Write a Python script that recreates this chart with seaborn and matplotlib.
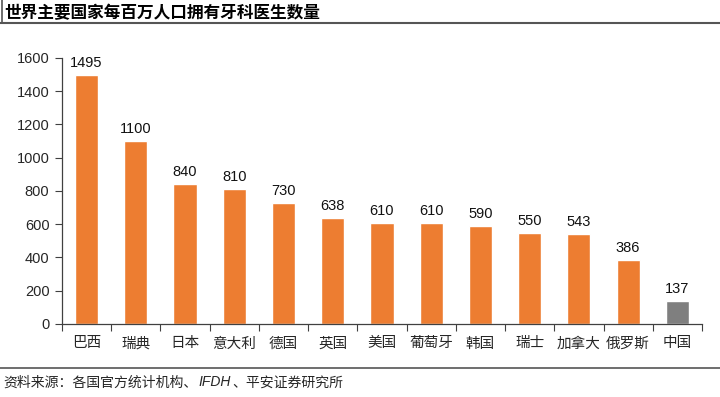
import matplotlib
matplotlib.use("Agg")
import matplotlib.pyplot as plt
from matplotlib.lines import Line2D
import seaborn as sns
import pandas as pd
import numpy as np

countries = ["巴西", "瑞典", "日本", "意大利", "德国", "英国", "美国", "葡萄牙", "韩国", "瑞士", "加拿大", "俄罗斯", "中国"]
values = [1495, 1100, 840, 810, 730, 638, 610, 610, 590, 550, 543, 386, 137]
yticks = [0, 200, 400, 600, 800, 1000, 1200, 1400, 1600]

sns.set_theme(style="white")
plt.rcParams['font.family'] = ['Noto Sans CJK SC', 'DejaVu Sans']

df = pd.DataFrame({"country": countries, "value": values})
palette = ["#ED7D31"] * (len(countries) - 1) + ["#7F7F7F"]

fig = plt.figure(figsize=(7.2, 3.97), dpi=100)
ax = fig.add_axes([0.086, 0.184, 0.889, 0.670])
sns.barplot(data=df, x="country", y="value", hue="country", palette=palette,
            legend=False, width=0.47, ax=ax, saturation=1)

ax.set_ylim(0, 1600)
ax.set_xlim(-0.5, len(countries) - 0.5)
ax.set_yticks(yticks)
ax.set_yticklabels([str(t) for t in yticks], fontsize=10.5, family=['Liberation Sans', 'DejaVu Sans'])
ax.set_xlabel("")
ax.set_ylabel("")
ax.tick_params(axis='x', length=0, labelsize=10.5, pad=9)
ax.tick_params(axis='y', length=5, width=0.8, color="#404040", direction='out', left=True, pad=4)
ax.set_xticks(np.arange(len(countries) + 1) - 0.5, minor=True)
ax.tick_params(axis='x', which='minor', length=5, width=0.8, color="#404040", direction='out', bottom=True)
for s in ["top", "right"]:
    ax.spines[s].set_visible(False)
for s in ["left", "bottom"]:
    ax.spines[s].set_color("#404040")
    ax.spines[s].set_linewidth(0.9)

for i, v in enumerate(values):
    ax.text(i, v + 30, str(v), ha="center", va="bottom", fontsize=10.5,
            family=['Liberation Sans', 'DejaVu Sans'], color="#111111")

fig.text(0.006, 0.967, "世界主要国家每百万人口拥有牙科医生数量", fontsize=12, fontweight="bold",
         ha="left", va="center", color="#000000")
fig.add_artist(Line2D([0, 1], [0.942, 0.942], color="#555555", lw=1.5, transform=fig.transFigure))
fig.add_artist(Line2D([0.003, 0.003], [0.942, 1.0], color="#555555", lw=1.2, transform=fig.transFigure))
fig.add_artist(Line2D([0, 1], [0.073, 0.073], color="#555555", lw=1.2, transform=fig.transFigure))

t1 = fig.text(0.004, 0.037, "资料来源：各国官方统计机构、", fontsize=10, ha="left", va="center")
t2 = ax.annotate("IFDH", xy=(1, 0.5), xycoords=t1, xytext=(1, 0), textcoords="offset points",
                 fontsize=10, style="italic", ha="left", va="center",
                 family=['Liberation Sans', 'DejaVu Sans'], annotation_clip=False)
t3 = ax.annotate("、平安证券研究所", xy=(1, 0.5), xycoords=t2, xytext=(1, 0), textcoords="offset points",
                 fontsize=10, ha="left", va="center", annotation_clip=False)

fig.savefig("out.png", dpi=100)
